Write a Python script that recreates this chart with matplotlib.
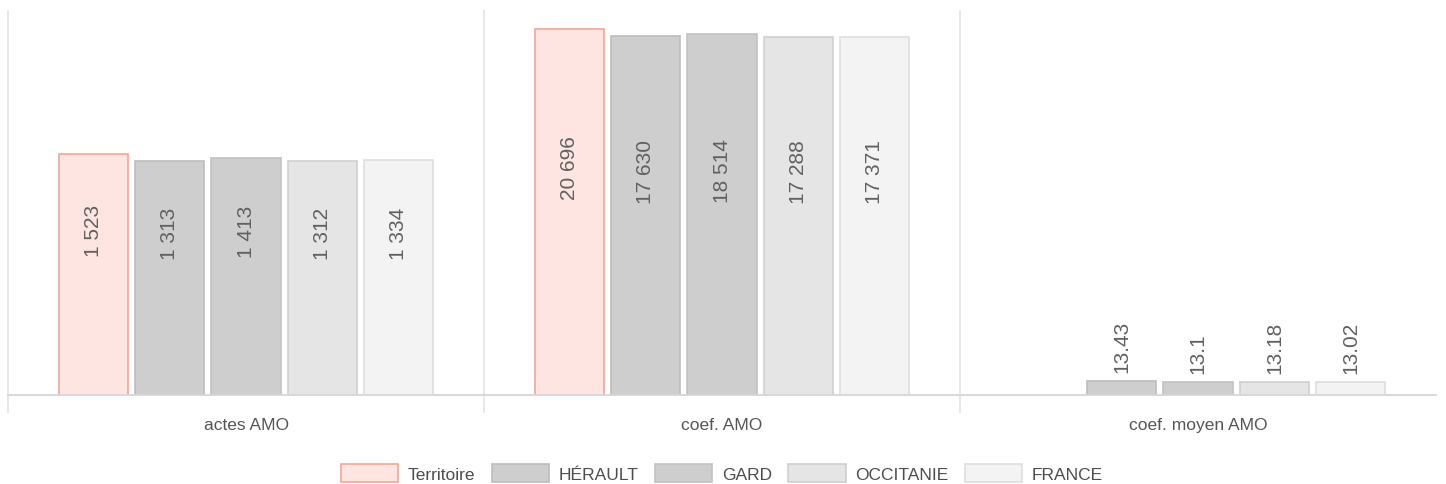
import numpy as np
import matplotlib
matplotlib.use("Agg")
import matplotlib.pyplot as plt
from matplotlib.patches import Patch

plt.rcParams['font.family'] = ['Liberation Sans', 'DejaVu Sans']

categories = ["actes AMO", "coef. AMO", "coef. moyen AMO"]
series_names = ["Territoire", "HÉRAULT", "GARD", "OCCITANIE", "FRANCE"]
territoire = [1523, 20696, np.nan]
herault = [1313, 17630, 13.43]
gard = [1413, 18514, 13.1]
occitanie = [1312, 17288, 13.18]
france = [1334, 17371, 13.02]
series_values = [territoire, herault, gard, occitanie, france]

face_colors = ["#fee5e1", "#cecece", "#cecece", "#e5e5e5", "#f3f3f3"]
edge_colors = ["#f4a597", "#bdbdbd", "#c2c2c2", "#cfcfcf", "#dedede"]

W, H = 1446, 485
fig = plt.figure(figsize=(W / 100, H / 100), dpi=100)
ax = fig.add_axes([8 / W, (H - 396) / H, 1428 / W, 384 / H])
ax.set_yscale('log')
ax.set_ylim(10, 30000)
ax.set_xlim(-0.5, len(categories) - 0.5)

pitch = 0.1607
width = 0.145
x = np.arange(len(categories))

def fmt(v):
    if v >= 1000:
        return f"{v:,.0f}".replace(",", " ")
    return f"{v:g}"

for i, (name, vals) in enumerate(zip(series_names, series_values)):
    xs = x + (i - 2) * pitch
    ax.bar(xs, vals, width=width, color=face_colors[i], edgecolor=edge_colors[i],
           linewidth=1.2, label=name, zorder=3)
    for xi, v in zip(xs, vals):
        if np.isnan(v):
            continue
        if v > 100:
            ymid = np.sqrt(ax.get_ylim()[0] * v)
            ax.annotate(fmt(v), xy=(xi, ymid), xytext=(0, 45), textcoords='offset pixels',
                        rotation=90, ha='center', va='center', fontsize=15,
                        color='#606060', zorder=4)
        else:
            ax.annotate(fmt(v), xy=(xi, v), xytext=(0, 9), textcoords='offset pixels',
                        rotation=90, ha='center', va='bottom', fontsize=15,
                        color='#606060', zorder=4)

# category separators
for b in np.arange(-0.5, len(categories) - 0.5, 1.0):
    ax.axvline(b, ymin=-17 / 384, ymax=1, color='#e6e6e6', lw=1.3, clip_on=False, zorder=1)

for s in ['top', 'right', 'left']:
    ax.spines[s].set_visible(False)
ax.spines['bottom'].set_color('#d6d6d6')
ax.spines['bottom'].set_linewidth(1.3)
ax.spines['bottom'].set_zorder(5)
ax.set_yticks([])
ax.minorticks_off()
ax.yaxis.set_minor_locator(matplotlib.ticker.NullLocator())
ax.set_xticks(x)
ax.set_xticklabels(categories, fontsize=12.5, color='#555555')
ax.tick_params(axis='x', length=0, pad=16)

handles = [Patch(facecolor=face_colors[i], edgecolor=edge_colors[i], linewidth=1.2)
           for i in range(len(series_names))]
leg = fig.legend(handles, series_names, loc='center', bbox_to_anchor=(722 / W, (H - 474) / H),
                 ncol=5, frameon=False, fontsize=12.5, handlelength=3.3, handleheight=1.2,
                 handletextpad=0.55, columnspacing=0.95, borderpad=0)
for t in leg.get_texts():
    t.set_color('#4d4d4d')

fig.savefig("out.png", dpi=100)
